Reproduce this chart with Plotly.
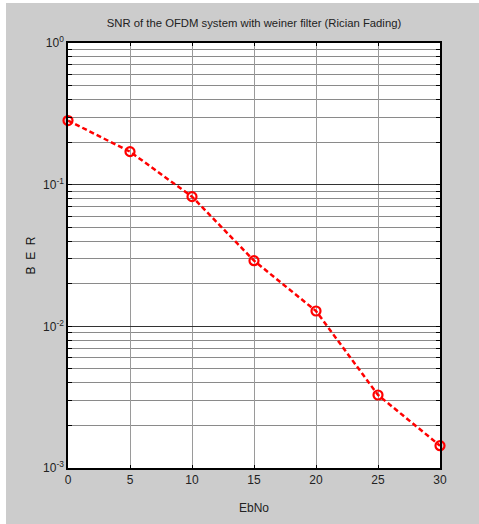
import plotly.graph_objects as go

ebno = [0, 5, 10, 15, 20, 25, 30]
ber = [0.2834, 0.171, 0.0823, 0.02906, 0.01283, 0.003276, 0.001437]

x_ticks = [0, 5, 10, 15, 20, 25, 30]
y_ticks = [1, 0.1, 0.01, 0.001]
y_ticktext = ["10<sup>0</sup>", "10<sup>-1</sup>", "10<sup>-2</sup>", "10<sup>-3</sup>"]
y_minor = [k * 10.0 ** e for e in (-3, -2, -1) for k in range(2, 10)]

FONT = "Liberation Sans, Arial, sans-serif"
TXT = "#222222"

fig = go.Figure()
fig.add_trace(go.Scatter(
    x=ebno, y=ber, mode="lines+markers",
    line=dict(color="#ff0000", width=2.5, dash="5px,3px"),
    marker=dict(symbol="circle-open", size=9, color="#ff0000", line=dict(width=2.2, color="#ff0000")),
    cliponaxis=False, showlegend=False,
))

fig.update_layout(
    width=479, height=524,
    margin=dict(l=68, r=39, t=43, b=56),
    paper_bgcolor="#cccccc", plot_bgcolor="#ffffff",
    font=dict(family=FONT, size=12, color=TXT),
    title=dict(text="SNR of the OFDM system with weiner filter (Rician Fading)",
               x=0.5, xref="paper", xanchor="center", y=1 - 23 / 524, yanchor="middle",
               font=dict(family=FONT, size=11.3, color=TXT)),
    xaxis=dict(
        range=[0, 30], tickvals=x_ticks, ticktext=[str(v) for v in x_ticks],
        showgrid=True, gridcolor="#9a9a9a", gridwidth=1,
        showline=True, linecolor="#000000", linewidth=1.5, mirror="allticks",
        ticks="inside", ticklen=3, tickcolor="#000000",
        zeroline=False,
        title=dict(text="EbNo", standoff=17, font=dict(family=FONT, size=12, color=TXT)),
        tickfont=dict(family=FONT, size=12, color=TXT),
    ),
    yaxis=dict(
        type="log", range=[-3, 0], tickvals=y_ticks, ticktext=y_ticktext,
        showgrid=True, gridcolor="#333333", gridwidth=1,
        showline=True, linecolor="#000000", linewidth=1.5, mirror="allticks",
        ticks="inside", ticklen=4, tickcolor="#000000",
        minor=dict(tickmode="array", tickvals=y_minor, ticks="inside", ticklen=4,
                   tickcolor="#000000", showgrid=True, gridcolor="#8a8a8a", gridwidth=1),
        zeroline=False,
        title=dict(text="B\u00a0\u00a0E\u00a0\u00a0R", standoff=5,
                   font=dict(family=FONT, size=12, color="#111111")),
        tickfont=dict(family=FONT, size=12, color=TXT),
    ),
    shapes=[
        dict(type="rect", xref="paper", yref="paper", x0=-68 / 372, x1=-62 / 372, y0=-0.2, y1=1.2,
             fillcolor="#ffffff", line=dict(width=0), layer="below"),
        dict(type="rect", xref="paper", yref="paper", x0=-0.3, x1=1.2, y0=1 + 40 / 425, y1=1 + 45 / 425,
             fillcolor="#ffffff", line=dict(width=0), layer="below"),
    ],
)

fig.write_html("out.html")
